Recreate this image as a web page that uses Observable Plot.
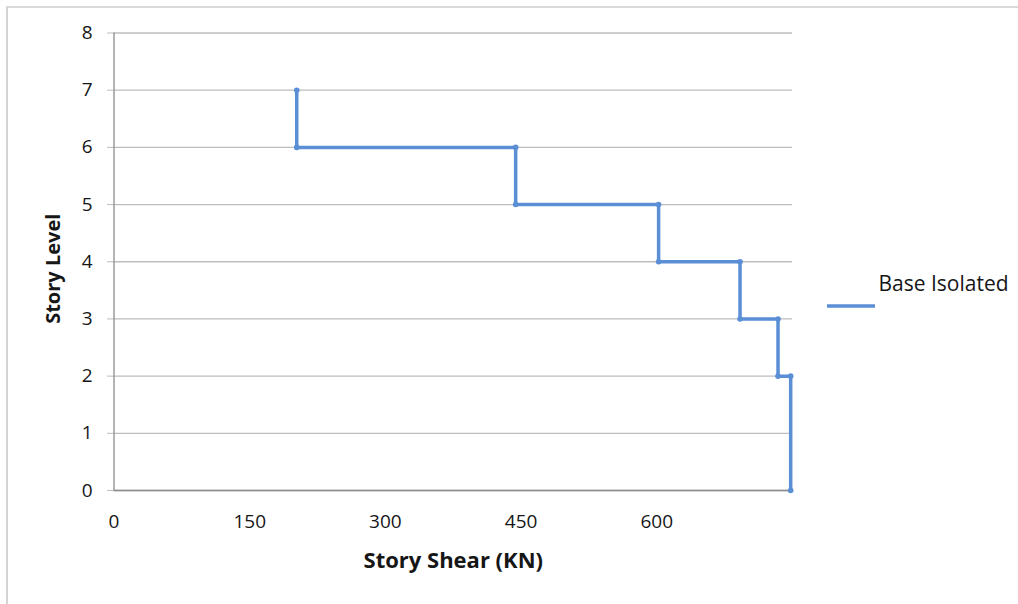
<!DOCTYPE html>
<html>
<head>
<meta charset="utf-8">
<script src="https://cdn.jsdelivr.net/npm/d3@7"></script>
<script src="https://cdn.jsdelivr.net/npm/@observablehq/plot@0.6"></script>
<style>
  html, body { margin: 0; padding: 0; background: #fff; }
  #wrap { position: relative; width: 1018px; height: 604px; overflow: hidden; }
  #border { position: absolute; left: 6px; top: 6px; width: 1030px; height: 620px;
            border-left: 2px solid #D4D4D4; border-top: 2px solid #D9D9D9; box-sizing: border-box; }
  #chart { position: absolute; left: 0; top: 0; }
</style>
</head>
<body>
<div id="wrap"><div id="border"></div><div id="chart"></div></div>
<script>
const seriesName = "Base Isolated";
const storyShear = [202, 202, 444, 444, 602, 602, 692, 692, 734, 734, 748, 748];
const storyLevel = [7, 6, 6, 5, 5, 4, 4, 3, 3, 2, 2, 0];
const xTicks = [0, 150, 300, 450, 600];
const yTicks = [0, 1, 2, 3, 4, 5, 6, 7, 8];
const xTitle = "Story Shear (KN)";
const yTitle = "Story Level";

const data = storyShear.map((x, i) => ({x, y: storyLevel[i]}));
const blue = "#5A8FD6";
const ink = "#161616";

const chart = Plot.plot({
  width: 1018,
  height: 604,
  marginLeft: 113.5,
  marginRight: 226,
  marginTop: 32.5,
  marginBottom: 114,
  style: {fontFamily: "'Open Sans', sans-serif", fontSize: "19px", color: ink, background: "transparent"},
  x: {domain: [0, 750], label: null},
  y: {domain: [0, 8], label: null},
  marks: [
    Plot.gridY(yTicks, {stroke: "#BDBDBD", strokeOpacity: 1, strokeWidth: 1.3}),
    Plot.axisY(yTicks, {tickSize: 6.5, tickPadding: 15, tickFormat: "d", stroke: "#BDBDBD", strokeOpacity: 1, fill: ink, label: null}),
    Plot.axisX(xTicks, {tickSize: 0, tickPadding: 24, tickFormat: "d", fill: ink, label: null}),
    Plot.ruleX([0], {stroke: "#8C8C8C", strokeWidth: 1.3}),
    Plot.ruleY([0], {stroke: "#8C8C8C", strokeWidth: 1.3}),
    Plot.line(data, {x: "x", y: "y", stroke: blue, strokeWidth: 3.5}),
    Plot.dot(data, {x: "x", y: "y", r: 2.8, fill: blue, stroke: "none"}),
    Plot.text([xTitle], {frameAnchor: "bottom", dy: 70, lineAnchor: "middle", fontWeight: "bold", fontSize: 22, fill: ink}),
    Plot.text([yTitle], {frameAnchor: "left", rotate: -90, dx: -60.5, dy: 7, lineAnchor: "middle", textAnchor: "middle", fontWeight: "bold", fontSize: 20, fill: ink}),
    Plot.text([seriesName], {frameAnchor: "right", dx: 86, dy: 23, textAnchor: "start", lineAnchor: "middle", fontSize: 21, fill: ink})
  ]
});

d3.select(chart).append("line")
  .attr("x1", 827).attr("x2", 875).attr("y1", 306).attr("y2", 306)
  .attr("stroke", blue).attr("stroke-width", 3.5);

document.getElementById("chart").appendChild(chart);
</script>
</body>
</html>
